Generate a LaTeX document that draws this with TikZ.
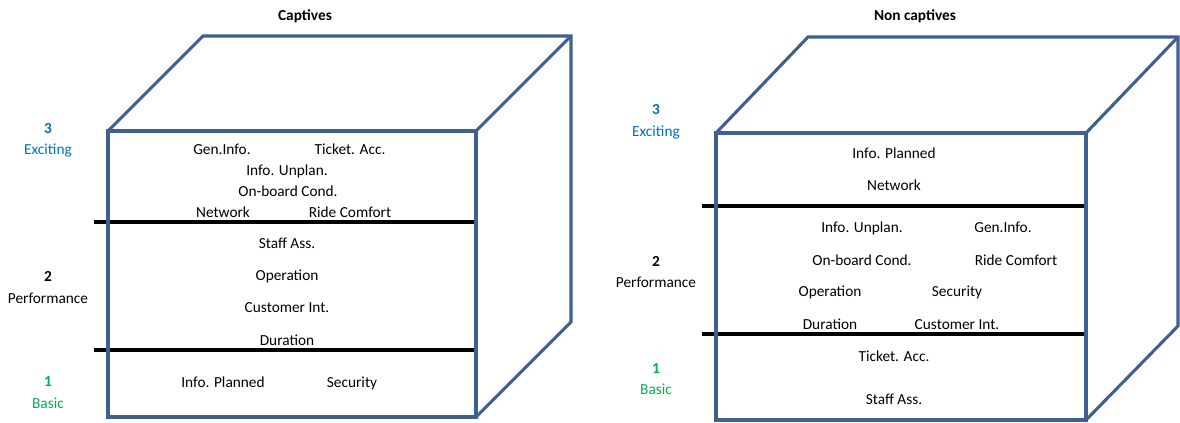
\documentclass[tikz,border=0pt]{standalone}
\usepackage{fontspec}
\setmainfont{Carlito}
\usetikzlibrary{positioning}

\definecolor{cubeblue}{RGB}{62,96,142}
\definecolor{excblue}{RGB}{0,112,192}
\definecolor{basgreen}{RGB}{0,176,80}

\begin{document}
\begin{tikzpicture}[x=0.75pt,y=-0.75pt,
	every node/.style={font=\fontsize{11.5}{14}\selectfont,inner sep=0pt,text height=9pt,text depth=1pt},
	cube/.style={draw=cubeblue,line width=2.3pt,line join=miter},
	band/.style={draw=black,line width=2.3pt},
	title/.style={font=\fontsize{11.5}{14}\selectfont\bfseries},
	lvl/.style={font=\fontsize{11.5}{14}\selectfont\bfseries},
	exc/.style={text=excblue},
	bas/.style={text=basgreen}]

\useasboundingbox (0,0) rectangle (1180,422);

% captives
\node [title] (capt) at (305,15) {Captives};

\draw [band] (94,222) -- (476,222);
\draw [band] (94,350) -- (476,350);
\draw [cube] (108,131) rectangle (476,417);
\draw [cube] (108,131) -- (203,36) -- (571,36) -- (571,322) -- (476,417);
\draw [cube] (476,131) -- (571,36);

\node [lvl,exc] (c3) at (48,128) {3};
\node [exc] (cexc) at (48,149) {Exciting};
\node [lvl] (c2) at (48,276) {2};
\node (cperf) at (48,298) {Performance};
\node [lvl,bas] (c1) at (48,381) {1};
\node [bas] (cbas) at (48,403) {Basic};

\node (cgen) at (222,149) {Gen.Info.};
\node (cticket) at (350,149) {Ticket. Acc.};
\node (cunplan) at (287,170) {Info. Unplan.};
\node (conboard) at (288,191) {On-board Cond.};
\node (cnetwork) at (223,212) {Network};
\node (cride) at (350,212) {Ride Comfort};
\node (cstaff) at (287,243) {Staff Ass.};
\node (coper) at (287,275) {Operation};
\node (ccust) at (287,307) {Customer Int.};
\node (cdur) at (287,340) {Duration};
\node (cplanned) at (223,382) {Info. Planned};
\node (csec) at (352,382) {Security};

% non captives
\node [title] (ncapt) at (915,15) {Non captives};

\draw [band] (702,206) -- (1086,206);
\draw [band] (702,334) -- (1086,334);
\draw [cube] (716,133) rectangle (1086,420);
\draw [cube] (716,133) -- (808,37) -- (1178,37) -- (1178,326) -- (1086,420);
\draw [cube] (1086,133) -- (1178,37);

\node [lvl,exc] (n3) at (656,109) {3};
\node [exc] (nexc) at (656,131) {Exciting};
\node [lvl] (n2) at (656,261) {2};
\node (nperf) at (656,282) {Performance};
\node [lvl,bas] (n1) at (656,368) {1};
\node [bas] (nbas) at (656,389) {Basic};

\node (nplanned) at (894,153) {Info. Planned};
\node (nnetwork) at (894,185) {Network};
\node (nunplan) at (862,227) {Info. Unplan.};
\node (ngen) at (1003,227) {Gen.Info.};
\node (nonboard) at (862,260) {On-board Cond.};
\node (nride) at (1016,260) {Ride Comfort};
\node (noper) at (830,291) {Operation};
\node (nsec) at (957,291) {Security};
\node (ndur) at (830,324) {Duration};
\node (ncust) at (957,324) {Customer Int.};
\node (nticket) at (894,356) {Ticket. Acc.};
\node (nstaff) at (894,399) {Staff Ass.};

\end{tikzpicture}
\end{document}
